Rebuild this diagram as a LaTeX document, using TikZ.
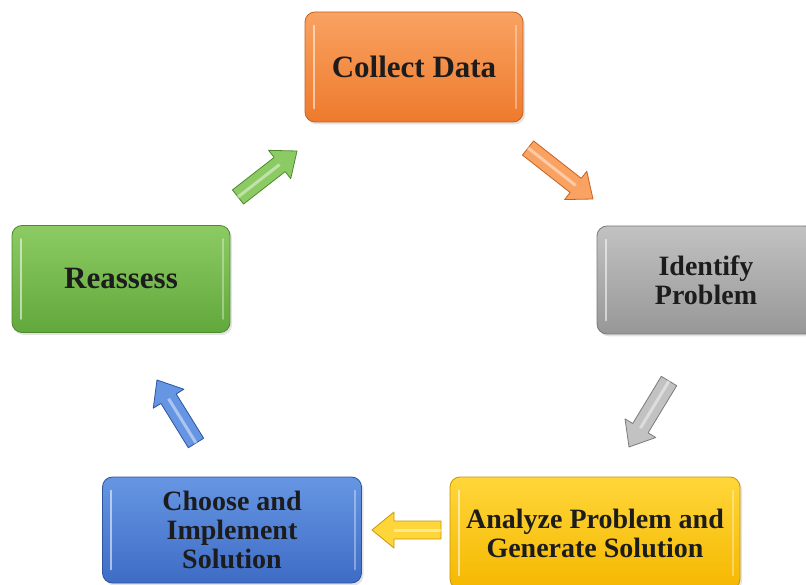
\documentclass[tikz,border=0pt]{standalone}
\usepackage{fontspec}
\setmainfont{Liberation Serif}
\usetikzlibrary{calc,shadows}
\definecolor{orA}{HTML}{F9A262}\definecolor{orB}{HTML}{EE7A2C}\definecolor{orD}{HTML}{C8621F}
\definecolor{grA}{HTML}{C2C2C2}\definecolor{grB}{HTML}{979797}\definecolor{grD}{HTML}{7A7A7A}
\definecolor{yeA}{HTML}{FFD63A}\definecolor{yeB}{HTML}{F5B800}\definecolor{yeD}{HTML}{C99600}
\definecolor{blA}{HTML}{6696E3}\definecolor{blB}{HTML}{3E6CC6}\definecolor{blD}{HTML}{2D549E}
\definecolor{gnA}{HTML}{8CCB63}\definecolor{gnB}{HTML}{62A83C}\definecolor{gnD}{HTML}{4D8A2D}
\definecolor{txt}{HTML}{1C1C1C}
\newcommand\blockarrow[4]{%
  \coordinate (#1h) at ($(#2)!22pt!(#1)$);
  \filldraw[fill=#3, draw=#4, line width=0.8pt, line join=round]
    ($(#1)!9pt!90:(#2)$) -- ($(#1h)!9pt!90:(#2)$) -- ($(#1h)!18pt!90:(#2)$) --
    (#2) -- ($(#1h)!18pt!-90:(#2)$) -- ($(#1h)!9pt!-90:(#2)$) -- ($(#1)!9pt!-90:(#2)$) -- cycle;
  \draw[white, opacity=0.45, line width=3pt] (#1) -- (#1h);
}
\begin{document}
\begin{tikzpicture}[x=1pt,y=-1pt,
  stepbox/.style={rounded corners=10pt, draw=#1D, line width=0.8pt,
    top color=#1A, bottom color=#1B, align=center, text=txt,
    font=\bfseries\fontsize{28}{29}\selectfont,
    drop shadow={opacity=0.22, shadow xshift=2pt, shadow yshift=-2.5pt}},
  gloss/.style={white, opacity=0.55, line width=2pt, line cap=round}]
\clip (0,0) rectangle (806,585);
\fill[white] (0,0) rectangle (806,585);
\node[stepbox=or, minimum width=218pt, minimum height=110pt, font=\bfseries\fontsize{31}{33}\selectfont] (collect) at (414,67) {Collect Data};
\node[stepbox=gr, minimum width=218pt, minimum height=108pt] (identify) at (706,280) {Identify\\Problem};
\node[stepbox=ye, minimum width=290pt, minimum height=112pt] (analyze) at (595,533) {Analyze Problem and\\Generate Solution};
\node[stepbox=bl, minimum width=259pt, minimum height=106pt] (choose) at (232,530) {Choose and\\Implement\\Solution};
\node[stepbox=gn, minimum width=218pt, minimum height=107pt, font=\bfseries\fontsize{31}{33}\selectfont] (reassess) at (121,279) {Reassess};
\foreach \n in {collect,identify,analyze,choose,reassess}{
  \draw[gloss] ([xshift=9pt,yshift=-14pt]\n.north west) -- ([xshift=9pt,yshift=14pt]\n.south west);
  \draw[gloss, opacity=0.35] ([xshift=-7pt,yshift=-14pt]\n.north east) -- ([xshift=-7pt,yshift=14pt]\n.south east);
}
\coordinate (ga) at (238,197); \coordinate (gb) at (297,151);
\coordinate (oa) at (528,148); \coordinate (ob) at (593,199);
\coordinate (sa) at (669,381); \coordinate (sb) at (629,447);
\coordinate (ya) at (441,530); \coordinate (yb) at (372,530);
\coordinate (ba) at (196,443); \coordinate (bb) at (157,380);
\blockarrow{ga}{gb}{gnA}{gnD}
\blockarrow{oa}{ob}{orA}{orD}
\blockarrow{sa}{sb}{grA}{grD}
\blockarrow{ya}{yb}{yeA}{yeD}
\blockarrow{ba}{bb}{blA}{blD}
\end{tikzpicture}
\end{document}
